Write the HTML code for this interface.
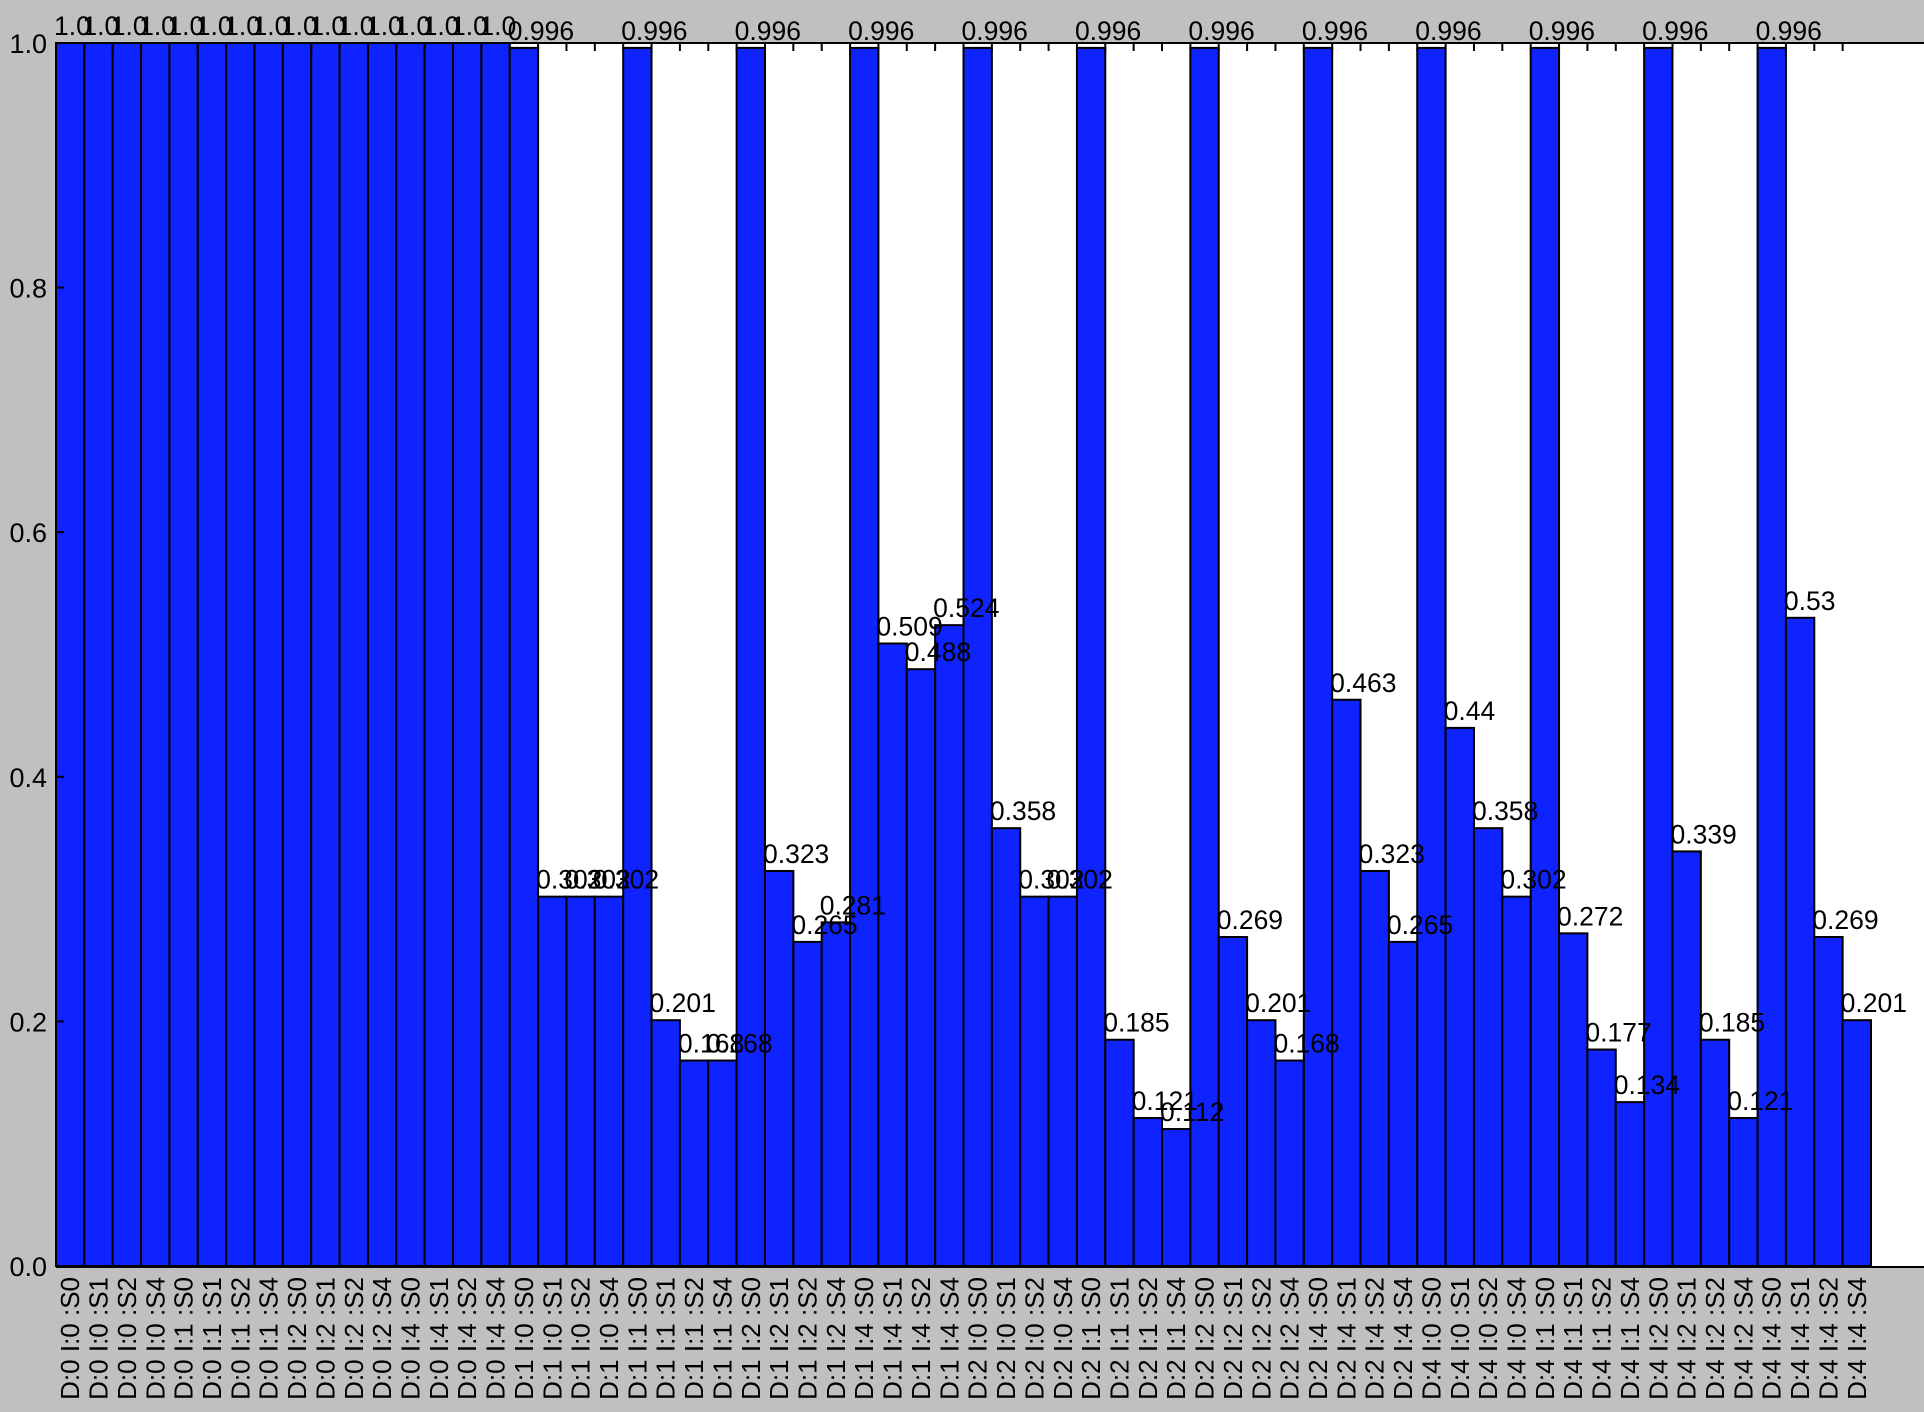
<!DOCTYPE html>
<html><head><meta charset="utf-8"><style>
html,body{margin:0;padding:0;background:#c0c0c0;}
svg{display:block;font-family:"Liberation Sans",sans-serif;}
</style></head><body>
<svg id="chart" width="1924" height="1412" xmlns="http://www.w3.org/2000/svg">
<rect x="0" y="0" width="1924" height="1412" fill="#c0c0c0"/>
<rect x="56" y="43" width="1868" height="1223" fill="#ffffff"/>
<g id="bars"></g>
<g id="vals"></g>
<g id="yaxis"></g>
<g id="xaxis"></g>
<line x1="56" y1="43" x2="1924" y2="43" stroke="#000" stroke-width="2"/>
<line x1="56" y1="43" x2="56" y2="1267" stroke="#000" stroke-width="2"/>
<line x1="56" y1="1267" x2="1924" y2="1267" stroke="#000" stroke-width="2"/>
</svg>
<script>
const dLevels = ["0","1","2","4"];
const iLevels = ["0","1","2","4"];
const sLevels = ["S0","S1","S2","S4"];
const values = [
1.0,1.0,1.0,1.0, 1.0,1.0,1.0,1.0, 1.0,1.0,1.0,1.0, 1.0,1.0,1.0,1.0,
0.996,0.302,0.302,0.302, 0.996,0.201,0.168,0.168, 0.996,0.323,0.265,0.281, 0.996,0.509,0.488,0.524,
0.996,0.358,0.302,0.302, 0.996,0.185,0.121,0.112, 0.996,0.269,0.201,0.168, 0.996,0.463,0.323,0.265,
0.996,0.44,0.358,0.302, 0.996,0.272,0.177,0.134, 0.996,0.339,0.185,0.121, 0.996,0.53,0.269,0.201
];
const valueLabels = [
"1.0","1.0","1.0","1.0","1.0","1.0","1.0","1.0","1.0","1.0","1.0","1.0","1.0","1.0","1.0","1.0",
"0.996","0.302","0.302","0.302","0.996","0.201","0.168","0.168","0.996","0.323","0.265","0.281","0.996","0.509","0.488","0.524",
"0.996","0.358","0.302","0.302","0.996","0.185","0.121","0.112","0.996","0.269","0.201","0.168","0.996","0.463","0.323","0.265",
"0.996","0.44","0.358","0.302","0.996","0.272","0.177","0.134","0.996","0.339","0.185","0.121","0.996","0.53","0.269","0.201"
];
const yTicks = [0.0,0.2,0.4,0.6,0.8,1.0];
const yTickLabels = ["0.0","0.2","0.4","0.6","0.8","1.0"];

const NS="http://www.w3.org/2000/svg";
const X0=56, XEND=1871, Y0=1266, YTOP=43;
const cats=[];
dLevels.forEach(d=>iLevels.forEach(i=>sLevels.forEach(s=>cats.push("D:"+d+" I:"+i+" :"+s))));
const bw=(XEND-X0)/cats.length;
function xs(k){return X0+k*bw;}
function ys(v){return Y0-v*(Y0-YTOP);}
function mk(tag,attrs,parent){const e=document.createElementNS(NS,tag);for(const k in attrs)e.setAttribute(k,attrs[k]);parent.appendChild(e);return e;}
const gb=document.getElementById('bars'),gv=document.getElementById('vals'),gy=document.getElementById('yaxis'),gx=document.getElementById('xaxis');
values.forEach((v,k)=>{
  const r=mk('rect',{x:xs(k),y:ys(v),width:bw,height:Y0-ys(v),fill:'#0f23ff',stroke:'#000','stroke-width':2},gb);
  
  
  const t=mk('text',{x:xs(k)-2,y:ys(v)-8,'font-size':26.5,fill:'#000'},gv);
  t.textContent=valueLabels[k];
  
  
  const tk=mk('line',{x1:xs(k),y1:YTOP,x2:xs(k),y2:YTOP+8,stroke:'#000','stroke-width':2},gx);
  
  
  const cx=xs(k)+bw/2+9;
  const lt=mk('text',{x:0,y:0,'font-size':26,fill:'#000','text-anchor':'end',transform:'translate('+cx+',1277) rotate(-90)'},gx);
  lt.textContent=cats[k];
  
  
});
yTicks.forEach((v,j)=>{
  const tk=mk('line',{x1:X0,y1:ys(v),x2:X0+8,y2:ys(v),stroke:'#000','stroke-width':2},gy);
  
  
  const t=mk('text',{x:X0-9,y:ys(v)+10,'font-size':27,fill:'#000','text-anchor':'end'},gy);
  t.textContent=yTickLabels[j];
  
  
});
</script>
</body></html>
